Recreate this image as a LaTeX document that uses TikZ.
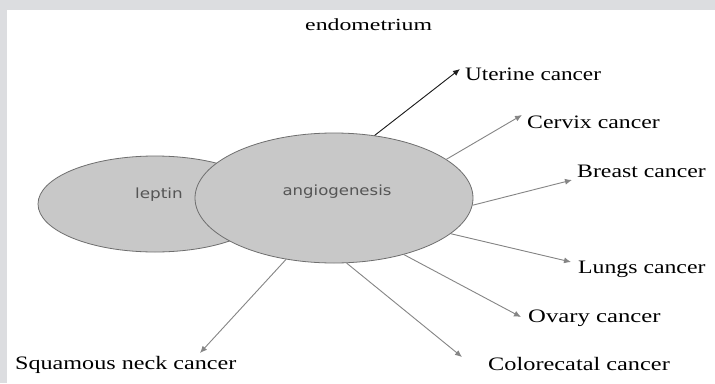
\documentclass[tikz,border=0pt]{standalone}
\usepackage{graphicx}
\usepackage{fontspec}
\setmainfont{Liberation Serif}
\newfontfamily\inlblfont{DejaVu Sans}
\usetikzlibrary{shapes.geometric,arrows.meta}
\definecolor{framegray}{HTML}{DCDDE0}
\definecolor{ellfill}{HTML}{C8C8C8}
\definecolor{ellline}{HTML}{6E6E6E}
\definecolor{arrgray}{HTML}{858585}
\definecolor{arrdark}{HTML}{1E1E1E}
\definecolor{inlbltext}{HTML}{555555}
\newcommand\widetext[2]{\scalebox{#1}[1]{#2}}
\begin{document}
\begin{tikzpicture}[x=1pt,y=-1pt,
  blob/.style={ellipse, draw=ellline, fill=ellfill, line width=0.8pt, inner sep=0pt},
  lbl/.style={anchor=base west, inner sep=0pt, font=\fontsize{19}{22}\selectfont},
  inlbl/.style={inner sep=0pt, text=inlbltext, font=\inlblfont\fontsize{14}{16}\selectfont},
  link/.style={draw=arrgray, line width=0.9pt, -{Latex[length=7pt,width=6pt]}},
  darklink/.style={link, draw=arrdark, fill=arrdark},
]
\fill[white] (0,0) rectangle (715,383);
\fill[framegray] (0,0) rectangle (715,10);
\fill[framegray] (0,0) rectangle (7,383);
\useasboundingbox (0,0) rectangle (715,383);

% ellipses
\node[blob, minimum width=234pt, minimum height=96pt] (leptin) at (155,204) {};
\node[blob, minimum width=278pt, minimum height=130pt] (angio) at (334,198) {};
\node[inlbl] (leptinlbl) at (159,195) {\widetext{1.2}{leptin}};
\node[inlbl] (angiolbl) at (337,192) {\widetext{1.18}{angiogenesis}};

% labels
\node[lbl] (endo) at (305,30) {\widetext{1.4}{\fontsize{17}{20}\selectfont endometrium}};
\node[lbl] (uter) at (465,80) {\widetext{1.22}{Uterine cancer}};
\node[lbl] (cerv) at (527,128) {\widetext{1.25}{Cervix cancer}};
\node[lbl] (breast) at (577,177) {\widetext{1.25}{Breast cancer}};
\node[lbl] (lungs) at (578,273) {\widetext{1.25}{Lungs cancer}};
\node[lbl] (ovary) at (528,322) {\widetext{1.3}{Ovary cancer}};
\node[lbl] (colo) at (488,370) {\widetext{1.28}{Colorecatal cancer}};
\node[lbl] (squam) at (15,369) {\widetext{1.27}{Squamous neck cancer}};

% arrow tips
\coordinate (tU) at (460,69);
\coordinate (tC) at (522,115);
\coordinate (tB) at (572,180);
\coordinate (tL) at (571,262);
\coordinate (tO) at (521,317);
\coordinate (tCo) at (462,357);
\coordinate (tS) at (200,353);

% connectors
\draw[darklink] (angio.57.8) -- (tU);
\draw[link] (angio.19) -- (tC);
\draw[link] (angio.-3.6) -- (tB);
\draw[link] (angio.-17.6) -- (tL);
\draw[link] (angio.-39.7) -- (tO);
\draw[link] (angio.-79) -- (tCo);
\draw[link] (angio.232.7) -- (tS);
\end{tikzpicture}
\end{document}
